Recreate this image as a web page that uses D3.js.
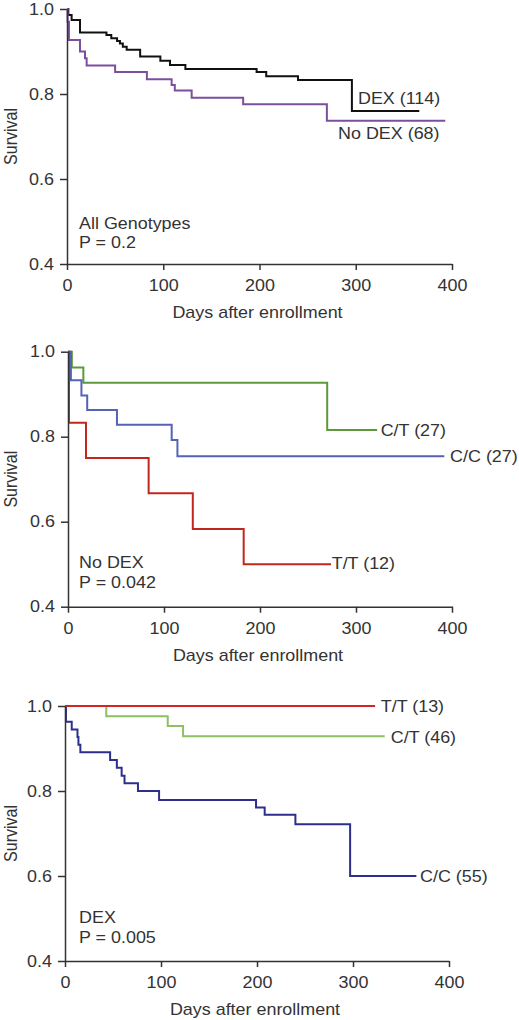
<!DOCTYPE html>
<html><head><meta charset="utf-8">
<script src="https://cdn.jsdelivr.net/npm/d3@7"></script>
<style>body{margin:0;background:#fff}svg{display:block}text{font-family:"Liberation Sans",Arial,sans-serif;fill:#333}</style>
</head><body><svg id="c" width="519" height="1020"></svg>
<script>
// ---------- data ----------
const xTicks = [0, 100, 200, 300, 400];
const yTicks = [0.4, 0.6, 0.8, 1.0];
const yTickLabels = ["0.4", "0.6", "0.8", "1.0"];
const xLabel = "Days after enrollment";
const yLabel = "Survival";

// Panel 1: All genotypes
const p1DexTimes = [0, 1.4, 4.8, 13.5, 41, 46, 52, 55, 58, 62, 76, 97, 107, 123, 197, 207, 240, 296, 366];
const p1DexSurv  = [1.0, 0.986, 0.974, 0.945, 0.939, 0.931, 0.925, 0.919, 0.911, 0.904, 0.888, 0.878, 0.868, 0.859, 0.852, 0.842, 0.833, 0.760, 0.760];
const p1NoDexTimes = [0, 0.6, 2, 13.5, 18.7, 20.4, 50, 83, 108.7, 112, 129.5, 183, 270, 393];
const p1NoDexSurv  = [1.0, 0.970, 0.927, 0.900, 0.884, 0.867, 0.852, 0.835, 0.821, 0.808, 0.791, 0.776, 0.737, 0.737];

// Panel 2: No DEX by genotype
const p2CTTimes = [0, 4, 16, 270, 322];
const p2CTSurv  = [1.0, 0.963, 0.927, 0.816, 0.816];
const p2CCTimes = [0, 3, 14, 20, 51, 108, 114, 392];
const p2CCSurv  = [1.0, 0.933, 0.897, 0.863, 0.828, 0.792, 0.754, 0.754];
const p2TTTimes = [0, 1, 18.75, 84, 130, 183, 274];
const p2TTSurv  = [1.0, 0.833, 0.750, 0.667, 0.583, 0.500, 0.500];

// Panel 3: DEX by genotype
const p3TTTimes = [0, 323];
const p3TTSurv  = [1.0, 1.0];
const p3CTTimes = [0, 43, 107, 123, 333];
const p3CTSurv  = [1.0, 0.976, 0.953, 0.929, 0.929];
const p3CCTimes = [0, 1, 7, 13, 14, 16, 47, 54, 59, 62, 76, 98, 199, 208, 240, 297, 366];
const p3CCSurv  = [1.0, 0.963, 0.945, 0.927, 0.909, 0.891, 0.873, 0.855, 0.836, 0.818, 0.800, 0.779, 0.761, 0.744, 0.722, 0.600, 0.600];

const panels = [
  { xr: [67, 452], yr: [264, 9],
    series: [
      { t: p1DexTimes, s: p1DexSurv, color: "#111111", label: "DEX (114)", lx: 302.3, ly: 0.776 },
      { t: p1NoDexTimes, s: p1NoDexSurv, color: "#7b4f9e", label: "No DEX (68)", lx: 281.6, ly: 0.694 }
    ],
    note: ["All Genotypes", "P = 0.2"], nx: 12.5, ny: [0.482, 0.4376] },
  { xr: [68, 452], yr: [606.7, 351.7],
    series: [
      { t: p2CTTimes, s: p2CTSurv, color: "#5a9a3a", label: "C/T (27)", lx: 325.7, ly: 0.8016 },
      { t: p2CCTimes, s: p2CCSurv, color: "#5462b8", label: "C/C (27)", lx: 398, ly: 0.7405 },
      { t: p2TTTimes, s: p2TTSurv, color: "#c0281e", label: "T/T (12)", lx: 274.7, ly: 0.4887 }
    ],
    note: ["No DEX", "P = 0.042"], nx: 11.5, ny: [0.491, 0.443] },
  { xr: [65, 449], yr: [961, 706],
    series: [
      { t: p3CCTimes, s: p3CCSurv, color: "#2e2e8c", label: "C/C (55)", lx: 369.8, ly: 0.586 },
      { t: p3CTTimes, s: p3CTSurv, color: "#8cc063", label: "C/T (46)", lx: 339.3, ly: 0.913 },
      { t: p3TTTimes, s: p3TTSurv, color: "#d42424", label: "T/T (13)", lx: 328.9, ly: 0.986 }
    ],
    note: ["DEX", "P = 0.005"], nx: 14.6, ny: [0.489, 0.442] }
];

// ---------- drawing ----------
const svg = d3.select("#c");
svg.append("rect").attr("width", 519).attr("height", 1020).attr("fill", "#fff");
const FS = 16, SX = 1.12;

function stretchedText(g, x, y, str, anchor) {
  return g.append("text")
    .attr("transform", `translate(${x},${y}) scale(${SX},1)`)
    .attr("font-size", FS).attr("text-anchor", anchor || "start").text(str);
}

panels.forEach(p => {
  const x = d3.scaleLinear().domain([0, 400]).range(p.xr);
  const y = d3.scaleLinear().domain([0.4, 1.0]).range(p.yr);
  const g = svg.append("g");

  // curves
  const line = d3.line().x(d => x(d[0])).y(d => y(d[1])).curve(d3.curveStepAfter);
  p.series.forEach(s => {
    const pts = s.t.map((t, i) => [t, s.s[i]]);
    g.append("path").attr("d", line(pts)).attr("fill", "none")
      .attr("stroke", s.color).attr("stroke-width", 2);
  });

  // axes
  const xa = g.append("g").attr("transform", `translate(0,${p.yr[0]})`)
    .call(d3.axisBottom(x).tickValues(xTicks).tickFormat(d3.format("d")).tickSize(6).tickSizeOuter(0).tickPadding(10));
  const ya = g.append("g").attr("transform", `translate(${p.xr[0]},0)`)
    .call(d3.axisLeft(y).tickValues(yTicks).tickFormat((d, i) => yTickLabels[i]).tickSize(7).tickSizeOuter(0).tickPadding(6));
  [xa, ya].forEach(a => {
    a.select(".domain").attr("stroke", "#333").attr("stroke-width", 1.5);
    a.selectAll(".tick line").attr("stroke", "#333").attr("stroke-width", 1.5);
    a.selectAll(".tick text").attr("font-size", FS).attr("font-family", "Liberation Sans, Arial, sans-serif")
      .attr("fill", "#333").attr("transform", `scale(${SX},1)`);
  });
  ya.selectAll(".tick text").attr("x", -13 / SX);

  // axis titles
  const xm = (p.xr[0] + p.xr[1]) / 2 - 2;
  stretchedText(g, xm, p.yr[0] + 54, xLabel, "middle");
  const ym = (p.yr[0] + p.yr[1]) / 2;
  g.append("text").attr("transform", `translate(17,${ym}) rotate(-90) scale(1,${SX})`)
    .attr("font-size", FS).attr("text-anchor", "middle").text(yLabel);

  // series labels
  p.series.forEach(s => stretchedText(g, x(s.lx), y(s.ly), s.label));
  // notes
  p.note.forEach((n, i) => stretchedText(g, x(p.nx), y(p.ny[i]), n));
});
</script></body></html>
